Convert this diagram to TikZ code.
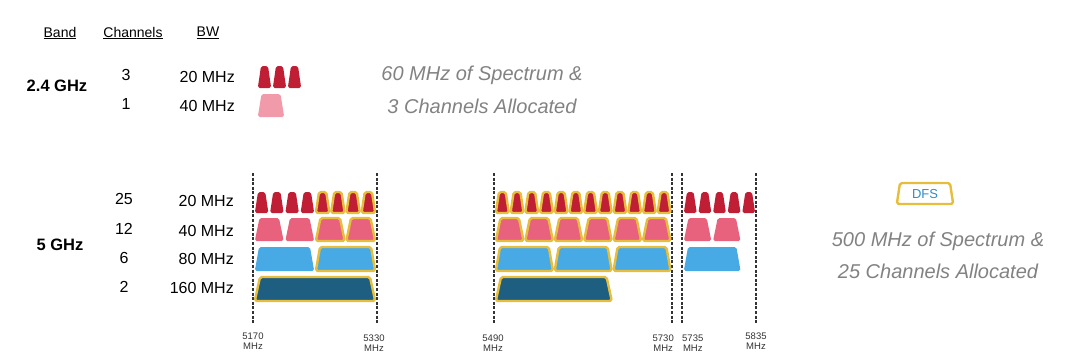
\documentclass[tikz,border=0pt]{standalone}
\usepackage{fontspec}
\setmainfont{Liberation Sans}
\usetikzlibrary{positioning}
\definecolor{chanred}{RGB}{192,30,52}
\definecolor{chanpink}{RGB}{232,98,126}
\definecolor{palepink}{RGB}{240,154,170}
\definecolor{chanblue}{RGB}{72,170,228}
\definecolor{chanteal}{RGB}{30,94,128}
\definecolor{dfsyellow}{RGB}{230,190,60}
\definecolor{notegray}{RGB}{130,130,130}
\definecolor{dfsblue}{RGB}{50,140,200}
% one channel as a trapezoid: left x, width, top y, height, inset, style
\newcommand{\chan}[6]{%
  \path[rounded corners=1.8pt,#6] (#1+0.8,#3+#4) -- (#1+#5,#3) -- (#1+#2-#5,#3) -- (#1+#2-0.8,#3+#4) -- cycle;}

\begin{document}
\begin{tikzpicture}[x=1pt,y=-1pt,
  every node/.style={inner sep=0pt},
  hdr/.style={font=\fontsize{14}{16}\selectfont},
  lbl/.style={font=\fontsize{16}{19}\selectfont},
  band/.style={font=\fontsize{16.5}{19}\selectfont\bfseries},
  note/.style={font=\fontsize{20}{24}\selectfont\itshape,text=notegray},
  freq/.style={font=\fontsize{9.5}{10.5}\selectfont,align=center,text=black!80},
  dfs/.style={draw=dfsyellow,line width=2.4pt,line join=round},
  freqline/.style={line width=1.2pt,dash pattern=on 3pt off 1.6pt,black!80}]
  \useasboundingbox (0,0) rectangle (1080,359);

  \node[hdr] (bandhd) at (60,33) {\underline{Band}};
  \node[hdr] (chanhd) at (133,33) {\underline{Channels}};
  \node[hdr] (bwhd) at (208,33) {\underline{BW}};

  % 2.4 GHz
  \node[band] (b24) at (57,86) {2.4 GHz};
  \node[lbl] (n24a) at (126,75) {3};
  \node[lbl] (n24b) at (126,104) {1};
  \node[lbl,anchor=east] (w24a) at (235,77) {20 MHz};
  \node[lbl,anchor=east] (w24b) at (235,106) {40 MHz};
  \foreach \i in {0,...,2} \chan{257+15*\i}{15}{66}{22}{4}{fill=chanred};
  \chan{257}{28}{94}{23}{4.5}{fill=palepink};
  \node[note] (note24a) at (482,75) {60 MHz of Spectrum \&};
  \node[note,below=14pt of note24a] (note24b) {3 Channels Allocated};

  % 5 GHz
  \node[band] (b5) at (60,245) {5 GHz};
  \node[lbl] (n5a) at (124,199) {25};
  \node[lbl] (n5b) at (124,229) {12};
  \node[lbl] (n5c) at (124,258) {6};
  \node[lbl] (n5d) at (124,287) {2};
  \node[lbl,anchor=east] (w5a) at (234,201) {20 MHz};
  \node[lbl,anchor=east] (w5b) at (234,231) {40 MHz};
  \node[lbl,anchor=east] (w5c) at (234,259) {80 MHz};
  \node[lbl,anchor=east] (w5d) at (234,288) {160 MHz};

  \foreach \x in {253,377,494,672,682,756} \draw[freqline] (\x,173) -- (\x,323);

  % 5170 - 5330
  \foreach \i in {0,...,3} \chan{254+15.25*\i}{15.25}{192}{21}{4}{fill=chanred};
  \foreach \i in {4,...,7} \chan{254+15.25*\i}{15.25}{192}{21}{4}{fill=chanred,dfs};
  \foreach \i in {0,1} \chan{254+30.5*\i}{30.5}{218}{23}{5.5}{fill=chanpink};
  \foreach \i in {2,3} \chan{254+30.5*\i}{30.5}{218}{23}{5.5}{fill=chanpink,dfs};
  \chan{254}{61}{247}{24}{5}{fill=chanblue};
  \chan{315}{61}{247}{24}{5}{fill=chanblue,dfs};
  \chan{254}{122}{277}{24}{6}{fill=chanteal,dfs};

  % 5490 - 5730
  \foreach \i in {0,...,11} \chan{495+14.7*\i}{14.7}{192}{21}{4}{fill=chanred,dfs};
  \foreach \i in {0,...,5} \chan{495+29.4*\i}{29.4}{218}{23}{5.5}{fill=chanpink,dfs};
  \foreach \i in {0,1,2} \chan{495+58.8*\i}{58.8}{247}{24}{5}{fill=chanblue,dfs};
  \chan{495}{117.6}{277}{24}{6}{fill=chanteal,dfs};

  % 5735 - 5835
  \foreach \i in {0,...,4} \chan{683+14.6*\i}{14.6}{192}{21}{4}{fill=chanred};
  \foreach \i in {0,1} \chan{683+29.2*\i}{29.2}{218}{23}{5.5}{fill=chanpink};
  \chan{683}{58.4}{247}{24}{5}{fill=chanblue};

  \node[freq] (f5170) at (253,341) {5170\\MHz};
  \node[freq] (f5330) at (374,343) {5330\\MHz};
  \node[freq] (f5490) at (493,343) {5490\\MHz};
  \node[freq,anchor=east] (f5730) at (674,343) {5730\\MHz};
  \node[freq,anchor=west] (f5735) at (682,343) {5735\\MHz};
  \node[freq] (f5835) at (756,341) {5835\\MHz};

  % legend
  \chan{896}{58}{183}{21}{4}{fill=white,dfs};
  \node[font=\fontsize{13}{15}\selectfont,text=dfsblue] (dfskey) at (925,194) {DFS};
  \node[note] (note5a) at (938,241) {500 MHz of Spectrum \&};
  \node[note,below=13pt of note5a] (note5b) {25 Channels Allocated};
\end{tikzpicture}
\end{document}
